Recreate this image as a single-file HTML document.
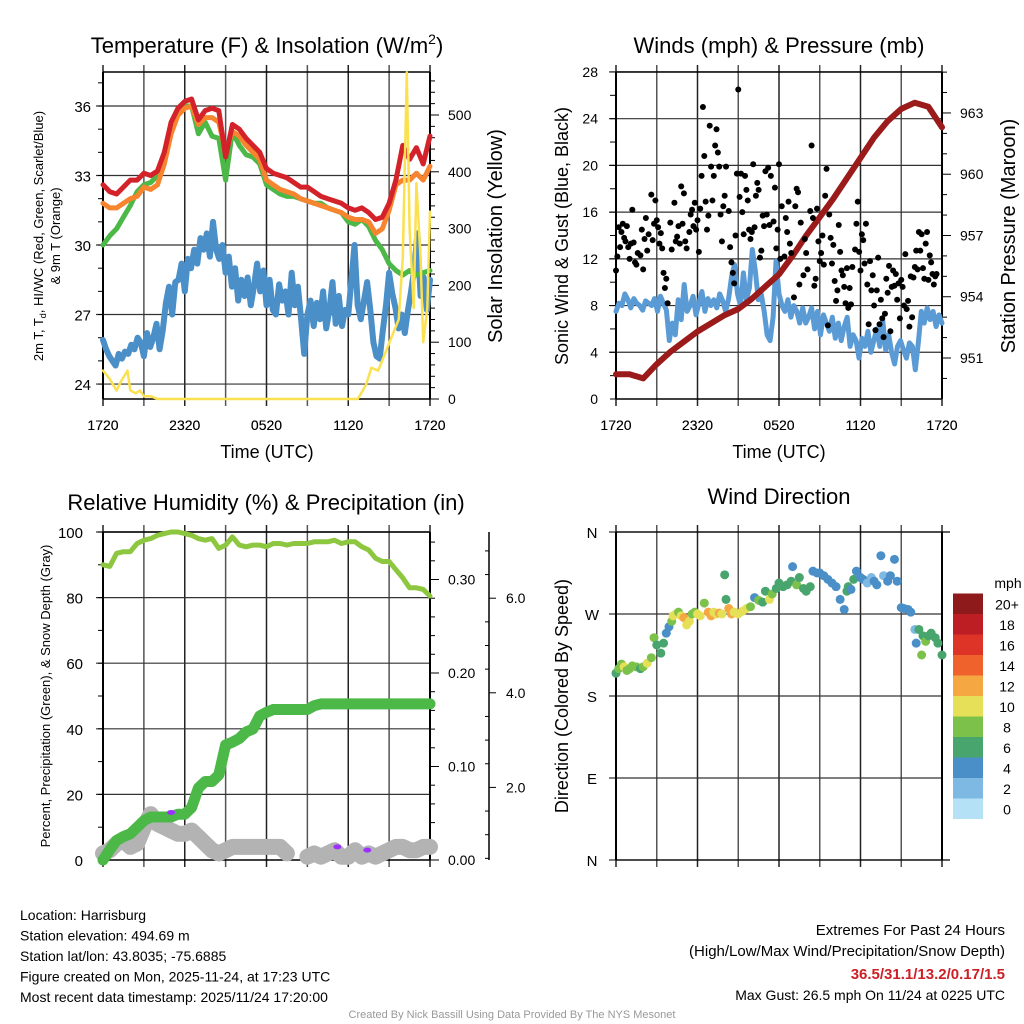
<!DOCTYPE html>
<html><head><meta charset="utf-8"><style>
body{margin:0;background:#fff;}
svg{display:block;font-family:"Liberation Sans",Arial,sans-serif;}
</style></head><body>
<svg id="s" width="1024" height="1024" viewBox="0 0 1024 1024" xmlns="http://www.w3.org/2000/svg"></svg>
<script>
// ---------- DATA ----------
const hourTicks = ["1720","2320","0520","1120","1720"];
const tempRed = [32.6,32.3,32.2,32.5,32.8,32.8,33.1,33.0,33.2,34.0,35.3,35.9,36.2,36.3,35.4,35.8,35.9,35.8,33.8,35.2,35.0,34.6,34.3,34.0,33.3,33.1,33.0,32.9,32.7,32.5,32.5,32.3,32.1,32.0,31.9,31.8,31.6,31.5,31.6,31.4,31.1,31.2,31.8,32.8,34.3,33.7,34.2,33.5,34.7];
const tempOrange = [31.8,31.6,31.6,31.8,32.0,32.1,32.5,32.4,32.6,33.5,34.8,35.6,35.9,36.0,35.2,35.5,35.5,35.3,34.0,34.9,34.7,34.3,34.0,33.7,32.8,32.6,32.4,32.3,32.2,32.0,31.9,31.8,31.7,31.6,31.5,31.4,31.2,31.1,31.1,31.0,30.5,30.7,31.5,32.6,32.8,32.8,33.1,32.8,33.4];
const tempGreen = [30.0,30.4,30.7,31.2,31.7,32.3,32.6,32.7,33.0,33.8,35.0,35.8,36.0,36.0,34.8,35.3,34.7,34.6,32.8,34.9,34.3,33.9,33.8,33.5,32.6,32.4,32.2,32.1,32.1,32.0,31.9,31.8,31.8,31.6,31.5,31.4,31.0,30.9,31.1,30.8,30.2,29.8,29.2,28.9,28.7,28.9,28.7,28.8,28.9];
const dewBlue = [25.9,25.5,25.2,25.0,24.8,25.3,25.1,25.4,25.3,25.7,25.5,26.0,25.8,25.2,26.2,25.6,26.0,26.6,25.5,26.3,27.5,28.2,27.0,28.4,28.5,29.2,28.0,29.4,29.0,29.8,29.2,30.3,29.8,30.5,29.5,31.0,29.8,29.4,30.0,28.8,29.5,28.2,29.0,27.6,28.5,27.8,28.6,27.4,28.2,29.2,28.0,28.9,27.4,28.5,27.2,27.0,28.3,27.6,28.0,27.0,28.8,27.4,28.2,26.8,25.3,27.0,27.6,26.5,27.5,26.8,28.0,26.4,27.2,28.4,26.6,27.8,26.5,27.2,27.0,28.5,30.0,27.4,26.8,27.6,28.4,27.2,25.8,25.2,25.1,26.3,27.4,28.8,27.9,27.3,26.4,27.0,26.2,27.2,28.0,29.0,30.5,27.8,28.6,27.2,28.5];
const solarHours = [0,0.5,1,1.3,1.8,2,2.4,2.7,3,3.5,4,18.7,19.3,19.7,20.2,20.7,21.2,21.7,22.0,22.3,22.5,22.8,23.0,23.3,23.5,23.8,24];
const solarValues = [50,35,15,30,50,15,10,15,5,5,0,0,25,55,50,80,110,140,250,575,300,160,380,250,100,160,330];
const windBlue = [7.5,8.2,8.0,9.0,8.5,7.8,8.6,8.2,8.0,7.6,8.4,8.2,8.0,8.6,7.5,8.8,8.2,7.6,5.0,6.5,5.5,8.5,6.8,9.8,7.5,8.0,8.8,7.2,8.2,9.2,7.5,8.6,8.0,8.5,7.8,9.0,8.4,7.5,8.6,10.5,11.5,9.0,8.0,10.8,8.5,9.5,12.8,11.0,8.5,9.0,7.5,5.5,5.0,7.0,11.8,9.0,8.0,7.5,8.5,7.0,8.0,7.5,6.5,7.8,6.5,7.0,7.8,6.0,7.5,5.5,7.2,6.5,5.8,7.0,5.2,6.5,5.0,6.2,7.0,4.5,5.5,5.0,3.5,5.2,4.5,5.8,4.0,5.0,6.0,4.5,6.8,4.2,5.5,4.0,3.0,4.5,5.0,4.2,3.5,4.8,4.5,2.5,4.8,7.5,6.5,7.8,6.8,7.5,6.2,7.2,6.5];
const pressure = [950.2,950.2,950.0,950.7,951.3,951.8,952.3,952.7,953.1,953.4,953.9,954.5,955.1,956.0,957.0,957.9,958.8,959.8,960.8,961.8,962.6,963.2,963.5,963.3,962.3];
const gustHours = [0,0.1,0.2,0.3,0.4,0.5,0.6,0.7,0.8,0.9,1,1.1,1.2,1.3,1.4,1.5,1.6,1.8,1.9,2.0,2.1,2.2,2.3,2.4,2.6,2.7,2.8,2.9,3.0,3.1,3.2,3.3,3.4,3.5,3.6,3.7,3.8,4.0,4.1,4.3,4.4,4.5,4.6,4.7,4.8,4.9,5.0,5.1,5.2,5.4,5.5,5.6,5.7,5.8,5.9,6.0,6.1,6.2,6.3,6.4,6.5,6.6,6.7,6.8,6.9,7.0,7.1,7.2,7.3,7.4,7.5,7.6,7.7,7.8,7.9,8.0,8.1,8.3,8.4,8.5,8.6,8.7,8.8,8.9,9.0,9.1,9.2,9.3,9.4,9.5,9.6,9.7,9.8,9.9,10.0,10.1,10.2,10.3,10.4,10.5,10.6,10.7,10.8,10.9,11.0,11.1,11.2,11.3,11.4,11.6,11.7,11.8,11.9,12.0,12.1,12.2,12.4,12.5,12.6,12.7,12.8,12.9,13.1,13.2,13.3,13.4,13.5,13.6,13.8,13.9,14.0,14.1,14.3,14.4,14.5,14.6,14.7,14.8,14.9,15.0,15.1,15.2,15.3,15.4,15.5,15.6,15.7,15.8,15.9,16.0,16.1,16.2,16.3,16.4,16.5,16.6,16.7,16.8,16.9,17.0,17.1,17.2,17.3,17.4,17.6,17.7,17.8,17.9,18.0,18.1,18.2,18.3,18.4,18.5,18.6,18.7,18.8,18.9,19.0,19.1,19.2,19.3,19.4,19.5,19.6,19.7,19.8,19.9,20.0,20.1,20.2,20.3,20.4,20.5,20.6,20.7,20.8,20.9,21.0,21.1,21.2,21.3,21.4,21.5,21.6,21.7,21.8,21.9,22.0,22.1,22.2,22.3,22.4,22.5,22.6,22.7,22.8,22.9,23.0,23.1,23.2,23.3,23.4,23.5,23.6];
const gustValues = [11,12.2,14.7,13,14.3,15,13.8,13.5,14.8,13,12,13.3,16.2,13.4,11.7,11.5,12.5,12.3,14.5,11.1,13.7,15.5,12.7,14.1,17.5,13.6,15,17.0,15.3,14.7,13.3,14.2,12.9,10.8,9.5,10.3,8.2,15.1,12.8,16.8,13.5,13.9,14.8,13.3,18.2,15,17.6,13.5,12.9,14.3,15.8,16.2,14.8,16.8,14.5,15.3,12.6,16.3,19.1,25.0,20.8,16.9,14.5,15.7,23.4,19.9,17.0,19.1,21.7,23.1,21.1,19.9,15.8,13.5,16.5,17.4,19.9,16.1,13.0,11.7,10.8,9.9,14.0,19.3,26.5,17.3,19.3,16.0,14.1,19.1,17.9,17.0,14.5,13.7,14.3,20.1,14.7,17.4,18.5,17.9,12.1,12.7,15.7,14.8,19.5,15.8,19.8,14.9,19.1,15.2,18.1,12.9,14.5,20.1,12.0,16.5,12.2,15.5,14.3,16.9,13.3,12.5,8.7,16.5,18.0,17.7,9.8,15.1,10.6,13.7,12.5,11.1,16.1,21.7,15.5,9.7,10.3,16.3,13.5,11.8,12.5,14.0,11.5,17.4,19.7,6.3,15.8,13.8,11.6,13.2,10.1,8.4,9.3,14.9,12.6,11.0,10.6,9.6,8.2,11.2,7.8,9.5,8.1,11.3,12.8,15.0,16.9,12.6,11.0,14.1,13.6,11.6,15.0,9.8,6.4,11.8,9.3,10.6,8.0,5.9,9.3,12.1,6.4,8.5,6.9,5.3,7.3,10.3,9.1,11.4,5.8,9.6,11.0,9.7,10.7,8.5,9.9,6.9,10.2,9.6,8.0,12.4,7.7,8.4,6.2,10.5,7.0,10.4,11.3,12.7,11.1,14.3,12.7,14.1,11.2,10.3,13.3,14.3,10.2,12.3,11.7,10.7,9.8,10.5,10.7];
const rhValues = [90,89.5,93.5,94,94,96.5,97.5,98,99,99.5,100,100,99.5,99,98,97.5,98,95,96,98.5,96,95.5,96,96,95.5,96.5,96.5,96,96.5,96.5,96.5,97,97,97,97.5,96.5,97,97,95.5,94.5,92,91,91,88.5,86,83,83,82.5,80.5];
const precipInches = [0,0.011,0.021,0.025,0.028,0.035,0.042,0.046,0.046,0.046,0.046,0.049,0.049,0.056,0.077,0.084,0.084,0.091,0.123,0.126,0.130,0.137,0.140,0.154,0.158,0.161,0.161,0.161,0.161,0.161,0.161,0.165,0.167,0.167,0.167,0.167,0.167,0.167,0.167,0.167,0.167,0.167,0.167,0.167,0.167,0.167,0.167,0.167,0.167];
const snowDepth = [2,3,5,6,4,5,10,14,11,10,9,8,8,9,7,5,3,2,3,4,4,4,4,4,4,4,4,2,null,null,1,2,1,2,3,1,1,3,1,2,1,2,3,4,4,3,3,4,4];
const purpleHours = [5.0,17.2,19.4];
const purpleValues = [14.5,4,3];
const dirHours = [0,0.2,0.4,0.6,0.8,1.0,1.2,1.5,1.8,2.0,2.3,2.6,2.8,3.0,3.3,3.5,3.7,3.9,4.1,4.2,4.4,4.6,4.8,5.0,5.2,5.4,5.6,5.8,6.0,6.2,6.5,6.8,7.0,7.2,7.4,7.6,7.8,8.0,8.1,8.3,8.5,8.7,9.0,9.3,9.6,9.9,10.2,10.5,10.8,11.0,11.3,11.5,11.8,12.0,12.3,12.6,12.9,13.0,13.3,13.5,13.8,14.0,14.3,14.5,14.8,15.0,15.3,15.6,15.9,16.2,16.5,16.8,17.0,17.1,17.3,17.5,17.7,18.0,18.2,18.5,18.8,19.0,19.2,19.5,19.7,20.0,20.2,20.5,20.7,21.0,21.2,21.5,21.7,22.0,22.1,22.3,22.5,22.6,22.8,23.0,23.2,23.5,23.7,24.0];
const dirDegrees = [205,210,215,212,208,210,213,212,210,212,216,222,244,236,227,238,249,256,262,268,270,272,268,266,258,262,270,272,270,268,282,272,268,272,270,271,270,313,286,276,270,272,270,273,276,278,288,285,283,295,286,292,298,304,300,302,306,322,302,310,298,295,300,317,315,315,312,308,304,300,286,275,295,300,297,308,317,310,308,304,310,306,302,334,312,306,312,330,306,277,276,275,272,253,238,253,225,246,240,246,249,244,238,225];
const dirSpeeds = [6,8,8,10,8,8,8,8,7,8,10,8,8,7,6,6,4,4,8,10,10,8,10,12,10,10,8,9,10,10,8,12,13,10,11,12,10,6,6,12,13,11,10,11,10,9,4,8,7,6,10,8,7,6,6,7,7,4,8,6,6,7,7,4,4,4,4,4,4,5,4,4,6,6,4,6,4,4,4,2,2,4,4,4,2,4,4,4,4,4,4,4,4,2,4,6,8,7,8,7,6,6,6,6];
const speedBins = ["0","2","4","6","8","10","12","14","16","18","20+"];
const speedColors = ["#b4e1f5","#7db9e3","#4a8fc7","#48a56d","#7cc24a","#e6e058","#f5a742","#f0622c","#de3427","#bd1e24","#8e1a1b"];

// ---------- HELPERS ----------
const NS="http://www.w3.org/2000/svg";
const svg=document.getElementById('s');
function el(tag,attrs,name,parent){
  const e=document.createElementNS(NS,tag);
  for(const k in attrs)e.setAttribute(k,attrs[k]);
  
  
  (parent||svg).appendChild(e);return e;
}
function txt(x,y,s,size,name,opts){
  opts=opts||{};
  const a={x:x,y:y,'font-size':size,fill:opts.fill||'#000','text-anchor':opts.anchor||'middle'};
  if(opts.weight)a['font-weight']=opts.weight;
  if(opts.rot!==undefined)a.transform='rotate('+opts.rot+' '+x+' '+y+')';
  const t=el('text',a,name);t.textContent=s;return t;
}
function line(x1,y1,x2,y2,st,w,name){return el('line',{x1:x1,y1:y1,x2:x2,y2:y2,stroke:st,'stroke-width':w},name);}
function xs(L,R){return t=>L+t*(R-L)/24;}
function spread(n){const a=[];for(let i=0;i<n;i++)a.push(i*24/(n-1));return a;}
function poly(xsF,ysF,hours,vals,color,w,name){
  let d='',pen=false;
  for(let i=0;i<vals.length;i++){
    if(vals[i]===null){pen=false;continue;}
    d+=(pen?'L':'M')+xsF(hours[i]).toFixed(1)+' '+ysF(vals[i]).toFixed(1);pen=true;
  }
  return el('path',{d:d,fill:'none',stroke:color,'stroke-width':w,'stroke-linejoin':'round','stroke-linecap':'round'},name);
}
const half=spread(49);
const hourly=spread(25);
function frame(L,R,T,B,hy,prefix){
  for(let k=0;k<=8;k++){const x=L+k*(R-L)/8;line(x,T-7,x,B+7,k%2?'#555':'#222',1.5,prefix+'-vgrid');}
  hy.forEach(y=>line(L-7,y,R,y,'#333',1.2,prefix+'-hgrid'));
  line(L,T,L,B,'#000',2,prefix+'-left-axis');
  line(R,T,R,B,'#000',2,prefix+'-right-axis');
  hourTicks.forEach((s,i)=>txt(L+i*(R-L)/4,430,s,14,prefix+'-x-tick'));
}

// ---------- TOP LEFT ----------
{
const L=103,R=430,T=72,B=399,X=xs(L,R);
const Y=v=>106+(36-v)*23.17, S=v=>399-v*0.568;
const title=txt(267,53,'',22,'temp-chart-title');
title.innerHTML='Temperature (F) &amp; Insolation (W/m<tspan dy="-9" font-size="14">2</tspan><tspan dy="9">)</tspan>';
frame(L,R,T,B,[36,33,30,27,24].map(Y),'temp');
for(let v=24;v<=37;v++)line(L-5,Y(v),L,Y(v),'#000',1,'temp-minor-tick');
[24,27,30,33,36].forEach(v=>txt(L-12,Y(v)+6,String(v),15,'temp-y-tick',{anchor:'end'}));
for(let v=0;v<=560;v+=20)line(R,S(v),R+(v%100?5:9),S(v),'#000',1,'solar-tick');
[0,100,200,300,400,500].forEach(v=>txt(R+18,S(v)+5,String(v),14,'solar-y-tick',{anchor:'start'}));
line(L,T,R,T,'#000',1.5,'temp-top-border');
line(L,B,R,B,'#000',1.5,'temp-bottom-border');
poly(X,Y,spread(dewBlue.length),dewBlue,'#4a8fc7',6,'dewpoint-line');
poly(X,Y,half,tempGreen,'#4cb848',5,'heat-index-line');
poly(X,Y,half,tempOrange,'#f7842e',5,'nine-meter-temp-line');
poly(X,Y,half,tempRed,'#d3222a',5,'two-meter-temp-line');
poly(X,S,solarHours,solarValues,'#fbe14f',2.5,'solar-insolation-line');
const yt=txt(43,236,'',13,'temp-y-axis-title',{rot:-90});
yt.innerHTML='2m T, T<tspan dy="3" font-size="9">d</tspan><tspan dy="-3">, HI/WC (Red, Green, Scarlet/Blue)</tspan>';
txt(60,236,'& 9m T (Orange)',13,'temp-y-axis-title-2',{rot:-90});
txt(502,236,'Solar Insolation (Yellow)',20,'solar-y-axis-title',{rot:-90});
txt(267,458,'Time (UTC)',18,'temp-x-axis-title');
}
// ---------- TOP RIGHT ----------
{
const L=616,R=942,T=72,B=399,X=xs(L,R);
const Y=v=>399-v*11.68, P=v=>358-(v-951)*20.42;
txt(779,53,'Winds (mph) & Pressure (mb)',22,'wind-chart-title');
frame(L,R,T,B,[4,8,12,16,20,24,28].map(Y),'wind');
for(let v=0;v<=28;v+=2)line(L-6,Y(v),L,Y(v),'#000',1,'wind-minor-tick');
[0,4,8,12,16,20,24,28].forEach(v=>txt(L-18,Y(v)+5,String(v),14,'wind-y-tick',{anchor:'end'}));
for(let v=950;v<=965;v++)if(P(v)>T&&P(v)<B)line(R,P(v),R+(v%3?5:9),P(v),'#000',1,'pressure-tick');
[951,954,957,960,963].forEach(v=>txt(R+18,P(v)+5,String(v),14,'pressure-y-tick',{anchor:'start'}));
line(L,B,R,B,'#000',1.5,'wind-bottom-border');
line(L,T,R,T,'#000',1.5,'wind-top-border');
poly(X,Y,spread(windBlue.length),windBlue,'#5b9bd5',5,'sustained-wind-line');
poly(X,P,hourly,pressure,'#9b1b1b',6,'pressure-line');
gustHours.forEach((h,i)=>{el('circle',{cx:X(h),cy:Y(gustValues[i]),r:3,fill:'#000'},'gust-point');});
txt(568,236,'Sonic Wind & Gust (Blue, Black)',18,'wind-y-axis-title',{rot:-90});
txt(1015,236,'Station Pressure (Maroon)',20,'pressure-y-axis-title',{rot:-90});
txt(779,458,'Time (UTC)',18,'wind-x-axis-title');
}
// ---------- BOTTOM LEFT ----------
{
const L=103,R=430,T=532,B=860,X=xs(L,R);
const Y=v=>860-v*3.28, PR=v=>860-v*935;
txt(266,510,'Relative Humidity (%) & Precipitation (in)',22,'humidity-chart-title');
frame(L,R,T,B,[20,40,60,80,100].map(Y),'humidity');
for(let v=0;v<=100;v+=10)line(L-5,Y(v),L,Y(v),'#000',1,'humidity-minor-tick');
[0,20,40,60,80,100].forEach(v=>txt(L-20,Y(v)+6,String(v),15,'humidity-y-tick',{anchor:'end'}));
for(let v=0;v<=0.34;v+=0.02)line(R,PR(v),R+(Math.round(v*100)%10?5:9),PR(v),'#000',1,'precip-tick');
[0,0.1,0.2,0.3].forEach(v=>txt(R+18,PR(v)+5,v.toFixed(2),14,'precip-y-tick',{anchor:'start'}));
line(489,T,489,B,'#000',1.5,'snow-axis');
const SN=v=>882-v*47.3;
for(let v=0.5;v<=7;v+=0.5)if(SN(v)>T&&SN(v)<B)line(489-(v%2?4:0),SN(v),v%2?489:496,SN(v),'#000',1,'snow-tick');
[2,4,6].forEach(v=>txt(506,SN(v)+5,v.toFixed(1),14,'snow-y-tick',{anchor:'start'}));
line(L,B,R,B,'#000',1.5,'humidity-bottom-border');
line(L,T,R,T,'#000',1.5,'humidity-top-border');
poly(X,Y,half,snowDepth,'#b3b3b3',16,'snow-depth-line');
poly(X,PR,half,precipInches,'#4cb848',11,'precipitation-line');
poly(X,Y,half,rhValues,'#8dc63f',5,'relative-humidity-line');
purpleHours.forEach((h,i)=>{el('ellipse',{cx:X(h),cy:Y(purpleValues[i]),rx:4,ry:2.5,fill:'#9b30ff'},'purple-marker');});
txt(50,696,'Percent, Precipitation (Green), & Snow Depth (Gray)',13,'humidity-y-axis-title',{rot:-90});
}
// ---------- BOTTOM RIGHT ----------
{
const L=616,R=942,T=532,B=860,X=xs(L,R);
const Y=v=>860-v*(328/360);
txt(779,504,'Wind Direction',22,'direction-chart-title');
frame(L,R,T,B,[0,90,180,270,360].map(Y),'direction');
line(L,B,R+8,B,'#000',1.2,'direction-bottom-border');
line(L,T,R+8,T,'#000',1.2,'direction-top-border');
['N','E','S','W','N'].forEach((s,i)=>txt(592,Y(i*90)+6,s,15,'direction-y-tick'));
dirHours.forEach((h,i)=>{
  const idx=Math.min(10,Math.floor(dirSpeeds[i]/2));
  el('circle',{cx:X(h),cy:Y(dirDegrees[i]),r:4.5,fill:speedColors[idx]},'direction-point');
});
txt(568,696,'Direction (Colored By Speed)',18,'direction-y-axis-title',{rot:-90});
txt(1008,588,'mph',14,'colorbar-title');
speedBins.forEach((s,i)=>{
  const y=819-(i+1)*20.5;
  el('rect',{x:953,y:y,width:30,height:20.5,fill:speedColors[i]},'colorbar-swatch');
  txt(1007,y+16,s,14,'colorbar-label');
});
}
// ---------- FOOTER ----------
['Location: Harrisburg','Station elevation: 494.69 m','Station lat/lon: 43.8035; -75.6885','Figure created on Mon, 2025-11-24, at 17:23 UTC','Most recent data timestamp: 2025/11/24 17:20:00'].forEach((s,i)=>txt(20,920+i*20.5,s,14,'station-info-line',{anchor:'start'}));
txt(1005,935,'Extremes For Past 24 Hours',15,'extremes-title',{anchor:'end'});
txt(1005,956,'(High/Low/Max Wind/Precipitation/Snow Depth)',15,'extremes-subtitle',{anchor:'end'});
txt(1005,979,'36.5/31.1/13.2/0.17/1.5',15,'extremes-values',{anchor:'end',fill:'#cc1f26',weight:'bold'});
txt(1005,1000,'Max Gust: 26.5 mph On 11/24 at 0225 UTC',14,'max-gust',{anchor:'end'});
txt(512,1018,'Created By Nick Bassill Using Data Provided By The NYS Mesonet',11,'credits',{fill:'#999'});
</script>
</body></html>
